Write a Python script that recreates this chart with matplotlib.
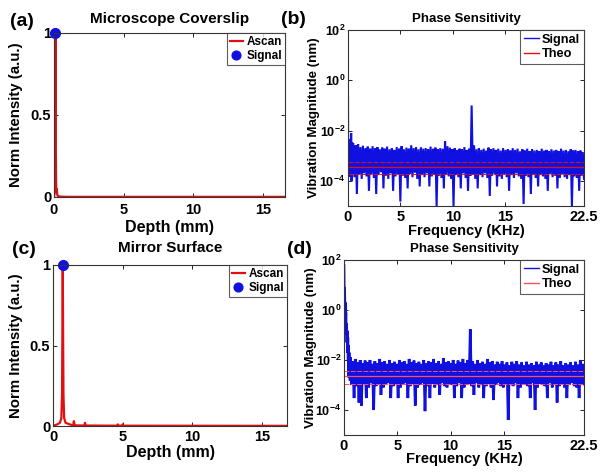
import numpy as np
import matplotlib
matplotlib.use("Agg")
import matplotlib.pyplot as plt
from matplotlib.ticker import FixedLocator, NullLocator

plt.rcParams['font.family'] = ['Liberation Sans', 'DejaVu Sans']
plt.rcParams['font.weight'] = 'bold'
plt.rcParams['mathtext.fontset'] = 'custom'
plt.rcParams['mathtext.rm'] = 'Liberation Sans:bold'
plt.rcParams['mathtext.bf'] = 'Liberation Sans:bold'
plt.rcParams['mathtext.it'] = 'Liberation Sans:bold'

# ---------------- Data ----------------
# (a) Microscope coverslip A-scan
a_depth = [0.0, 0.04, 0.07, 0.10, 0.13, 0.16, 0.20, 0.24, 0.30, 0.50, 1.0, 17.0]
a_int = [0.0, 0.02, 0.35, 1.0, 0.30, 0.03, 0.05, 0.01, 0.005, 0.002, 0.001, 0.001]
a_sig_depth = [0.10]
a_sig_int = [1.0]

# (c) Mirror surface A-scan
c_depth = [0.0, 0.3, 0.5, 0.6, 0.65, 0.70, 0.75, 0.80, 0.9, 1.2, 1.45, 1.5, 1.55,
           2.25, 2.3, 2.35, 4.6, 4.65, 4.7, 4.95, 5.0, 5.05, 17.0]
c_int = [0.0, 0.01, 0.02, 0.05, 0.2, 1.0, 0.2, 0.05, 0.02, 0.01, 0.004, 0.03, 0.004,
         0.003, 0.02, 0.003, 0.002, 0.01, 0.002, 0.002, 0.01, 0.002, 0.001]
c_sig_depth = [0.70]
c_sig_int = [1.0]

# (b) Phase sensitivity spectrum (coverslip)
b_head_freq = [0.0, 0.02, 0.06, 0.10, 0.14, 0.18, 0.22, 0.26, 0.30, 0.34, 0.38, 0.42, 0.46]
b_head_mag = [2.0e-1, 1.5e-4, 4.0e-3, 2.0e-4, 3.5e-3, 1.5e-4, 4.5e-3, 3.0e-4, 8.0e-3,
              1.0e-4, 3.5e-3, 2.0e-4, 3.0e-3]
b_band_start, b_band_end = 0.5, 22.5
b_upper = [3.2e-3, 2.6e-3, 2.9e-3, 2.2e-3, 2.5e-3, 2.0e-3, 2.3e-3, 1.9e-3, 2.4e-3, 2.0e-3,
           2.2e-3, 1.8e-3, 2.1e-3, 1.9e-3, 2.3e-3, 1.8e-3, 2.0e-3, 1.7e-3, 2.2e-3, 1.9e-3,
           2.4e-3, 1.8e-3, 2.1e-3, 1.9e-3, 2.6e-3, 2.0e-3, 2.2e-3, 1.8e-3, 2.1e-3, 1.9e-3,
           2.0e-3, 1.8e-3, 2.3e-3, 1.9e-3, 2.1e-3, 1.8e-3, 2.0e-3, 1.9e-3, 3.8e-3, 2.4e-3,
           2.1e-3, 1.8e-3, 2.0e-3, 1.7e-3, 1.9e-3, 1.8e-3, 2.2e-3, 1.7e-3, 1.9e-3, 1.0e-1,
           2.6e-3, 1.8e-3, 2.0e-3, 1.7e-3, 1.9e-3, 1.6e-3, 2.1e-3, 1.8e-3, 2.0e-3, 1.7e-3,
           1.9e-3, 1.6e-3, 2.0e-3, 1.7e-3, 1.8e-3, 1.6e-3, 2.0e-3, 1.7e-3, 1.9e-3, 1.5e-3,
           1.8e-3, 1.6e-3, 1.9e-3, 1.5e-3, 1.8e-3, 1.6e-3, 1.7e-3, 1.5e-3, 1.9e-3, 1.6e-3,
           1.7e-3, 1.5e-3, 1.8e-3, 1.6e-3, 1.7e-3, 1.5e-3, 1.9e-3, 1.6e-3, 1.7e-3, 1.5e-3,
           1.8e-3, 1.6e-3, 1.7e-3, 1.5e-3, 1.6e-3, 1.4e-3]
b_lower = [1.4e-4, 3.0e-5, 1.8e-4, 1.2e-4, 2.0e-4, 1.5e-4, 4.0e-5, 1.9e-4, 1.3e-4, 3.0e-5,
           1.7e-4, 2.2e-4, 5.0e-5, 1.6e-4, 1.2e-4, 2.0e-4, 4.0e-5, 1.5e-4, 1.8e-4, 1.5e-5,
           1.6e-4, 1.3e-4, 5.0e-5, 1.9e-4, 1.4e-4, 2.1e-4, 1.2e-4, 6.0e-5, 1.7e-4, 1.4e-4,
           2.0e-4, 6.0e-5, 1.5e-4, 1.8e-4, 1.0e-5, 1.6e-4, 1.3e-4, 5.0e-5, 1.9e-4, 1.5e-4,
           1.2e-4, 1.0e-5, 1.7e-4, 1.4e-4, 5.0e-5, 2.0e-4, 1.3e-4, 4.0e-5, 1.6e-4, 1.8e-4,
           1.2e-4, 5.0e-5, 1.7e-4, 1.4e-4, 2.0e-4, 1.3e-4, 2.5e-5, 1.6e-4, 1.9e-4, 6.0e-5,
           1.5e-4, 1.2e-4, 1.8e-4, 1.4e-4, 4.0e-5, 1.7e-4, 1.3e-4, 2.0e-4, 1.5e-4, 1.2e-4,
           1.2e-5, 1.6e-4, 1.4e-4, 3.0e-5, 1.8e-4, 1.3e-4, 6.0e-5, 1.7e-4, 1.5e-4, 1.2e-4,
           4.0e-5, 1.9e-4, 1.4e-4, 1.6e-4, 5.0e-5, 1.3e-4, 1.8e-4, 1.4e-4, 1.2e-4, 1.7e-4,
           1.0e-5, 1.5e-4, 1.3e-4, 4.0e-5, 1.6e-4, 1.2e-4]
b_theo = [3.5e-4]
b_theo_bounds = [5.6e-4, 1.9e-4]

# (d) Phase sensitivity spectrum (mirror)
d_head_freq = [0.0, 0.03, 0.06, 0.09, 0.12, 0.15, 0.18, 0.21, 0.24, 0.27, 0.30, 0.33,
               0.36, 0.39, 0.42, 0.45, 0.48, 0.51, 0.54, 0.57]
d_head_mag = [60.0, 3.0, 8.0, 0.8, 2.0, 0.3, 0.8, 0.1, 0.3, 0.05, 0.15, 0.02, 0.08,
              0.01, 0.04, 2.0e-3, 0.02, 2.0e-3, 0.012, 1.5e-3]
d_band_start, d_band_end = 0.6, 22.5
d_upper = [1.3e-2, 9.0e-3, 1.1e-2, 8.0e-3, 1.0e-2, 7.5e-3, 9.5e-3, 8.0e-3, 1.0e-2, 7.0e-3,
           9.0e-3, 7.5e-3, 1.1e-2, 8.0e-3, 9.0e-3, 7.0e-3, 1.0e-2, 7.5e-3, 8.5e-3, 7.0e-3,
           1.0e-2, 8.0e-3, 9.0e-3, 7.0e-3, 1.1e-2, 8.0e-3, 9.5e-3, 7.5e-3, 8.5e-3, 7.0e-3,
           1.0e-2, 7.5e-3, 9.0e-3, 8.0e-3, 1.1e-2, 7.5e-3, 9.0e-3, 7.0e-3, 1.2e-2, 8.0e-3,
           9.0e-3, 7.5e-3, 1.0e-2, 7.0e-3, 9.5e-3, 8.0e-3, 1.1e-2, 7.5e-3, 1.0e-2, 1.7e-1,
           9.0e-3, 7.0e-3, 1.0e-2, 7.5e-3, 8.5e-3, 7.0e-3, 1.1e-2, 8.0e-3, 9.0e-3, 6.5e-3,
           8.5e-3, 7.0e-3, 9.0e-3, 6.5e-3, 8.0e-3, 6.0e-3, 8.5e-3, 7.0e-3, 9.0e-3, 6.5e-3,
           8.0e-3, 6.0e-3, 8.5e-3, 6.5e-3, 7.5e-3, 6.0e-3, 8.5e-3, 6.5e-3, 8.0e-3, 6.0e-3,
           7.5e-3, 6.5e-3, 8.5e-3, 6.0e-3, 8.0e-3, 6.5e-3, 9.0e-3, 6.0e-3, 7.5e-3, 6.5e-3,
           8.0e-3, 6.0e-3, 8.5e-3, 6.5e-3, 1.0e-2, 7.0e-3]
d_lower = [1.0e-3, 3.0e-4, 9.0e-4, 2.0e-4, 1.5e-4, 1.1e-3, 3.0e-4, 8.0e-4, 1.2e-3, 1.0e-4,
           9.0e-4, 1.1e-3, 4.0e-4, 8.0e-4, 1.0e-3, 1.2e-3, 3.0e-4, 9.0e-4, 1.1e-3, 3.0e-4,
           8.0e-4, 1.0e-3, 1.2e-3, 3.0e-4, 9.0e-4, 1.1e-3, 1.5e-4, 8.0e-4, 1.0e-3, 1.2e-3,
           9.0e-5, 9.0e-4, 3.0e-4, 1.1e-3, 8.0e-4, 1.0e-3, 4.0e-4, 1.2e-3, 9.0e-4, 8.0e-4,
           1.1e-3, 1.0e-3, 3.0e-4, 9.0e-4, 1.2e-3, 3.0e-4, 8.0e-4, 1.0e-3, 1.1e-3, 9.0e-4,
           4.0e-4, 1.2e-3, 8.0e-4, 1.0e-3, 3.0e-4, 9.0e-4, 1.1e-3, 8.0e-4, 2.5e-4, 1.0e-3,
           1.2e-3, 9.0e-4, 8.0e-4, 1.1e-3, 4.0e-5, 1.0e-3, 9.0e-4, 1.2e-3, 3.0e-4, 8.0e-4,
           1.1e-3, 1.0e-3, 9.0e-4, 3.0e-4, 1.2e-3, 1.0e-4, 8.0e-4, 1.1e-3, 1.0e-3, 9.0e-4,
           3.0e-4, 1.2e-3, 8.0e-4, 1.0e-3, 2.0e-4, 9.0e-4, 1.1e-3, 8.0e-4, 3.0e-4, 1.0e-3,
           1.2e-3, 9.0e-4, 8.0e-4, 3.0e-4, 1.0e-3, 1.1e-3]
d_theo = [2.3e-3]
d_theo_bounds = [3.6e-3, 1.1e-3]

depth_ticks = [0, 5, 10, 15]
freq_ticks = [0, 5, 10, 15, 22.5]
freq_ticklabels = ['0', '5', '10', '15', '22.5']
int_ticks = [0, 0.5, 1]
int_ticklabels = ['0', '0.5', '1']
log_ticks = [1e-4, 1e-2, 1e0, 1e2]
log_ticklabels = [r'$10^{-4}$', r'$10^{-2}$', r'$10^{0}$', r'$10^{2}$']

RED = '#e01010'
BLUE = '#1010e0'


def build_spectrum(head_f, head_m, start, end, upper, lower):
    n = len(upper)
    f_pairs = np.linspace(start, end, 2 * n)
    m_pairs = np.ravel(np.column_stack([upper, lower]))
    return np.concatenate([head_f, f_pairs]), np.concatenate([head_m, m_pairs])


def style_axes(ax, xpad=2):
    ax.tick_params(direction='in', top=True, right=True, length=3, width=0.6,
                   labelsize=10.5, pad=2)
    ax.tick_params(axis='x', pad=xpad)
    for s in ax.spines.values():
        s.set_linewidth(0.8)
        s.set_color('#333333')
    for lab in ax.get_xticklabels() + ax.get_yticklabels():
        lab.set_fontweight('bold')


def style_legend(ax, fs, **kw):
    lg = ax.legend(loc='upper right', fontsize=fs, frameon=True, fancybox=False,
                   edgecolor='#333333', borderaxespad=0.0, **kw)
    lg.get_frame().set_linewidth(0.8)
    for t in lg.get_texts():
        t.set_fontweight('bold')
    return lg


fig = plt.figure(figsize=(6.04, 4.76), dpi=100)

# ---- (a) ----
ax_a = fig.add_axes([54 / 604, 1 - 197 / 476, 231 / 604, 164 / 476])
ax_a.plot(a_depth, a_int, color=RED, lw=1.6, label='Ascan')
ax_a.plot(a_sig_depth, a_sig_int, 'o', color=BLUE, ms=7, label='Signal', clip_on=False)
ax_a.set_xlim(0, 16.6)
ax_a.set_ylim(0, 1)
ax_a.set_xticks(depth_ticks)
ax_a.set_yticks(int_ticks)
ax_a.set_yticklabels(int_ticklabels)
style_axes(ax_a, xpad=4)
ax_a.set_xlabel('Depth (mm)', fontsize=11.5, fontweight='bold')
ax_a.xaxis.set_label_coords(0.5, -0.14)
ax_a.set_ylabel('Norm Intensity (a.u.)', fontsize=10.8, fontweight='bold')
ax_a.yaxis.set_label_coords(-0.134, 0.5)
ax_a.set_title('Microscope Coverslip', fontsize=11, fontweight='bold', pad=7)
style_legend(ax_a, 8.5, handlelength=1.1, handletextpad=0.3, borderpad=0.25,
             labelspacing=0.2, markerscale=0.9)

# ---- (c) ----
ax_c = fig.add_axes([53 / 604, 1 - 426 / 476, 234 / 604, 161 / 476])
ax_c.plot(c_depth, c_int, color=RED, lw=1.6, label='Ascan')
ax_c.plot(c_sig_depth, c_sig_int, 'o', color=BLUE, ms=7, label='Signal', clip_on=False)
ax_c.set_xlim(0, 16.8)
ax_c.set_ylim(0, 1)
ax_c.set_xticks(depth_ticks)
ax_c.set_yticks(int_ticks)
ax_c.set_yticklabels(int_ticklabels)
style_axes(ax_c, xpad=3)
ax_c.set_xlabel('Depth (mm)', fontsize=11.5, fontweight='bold')
ax_c.xaxis.set_label_coords(0.5, -0.115)
ax_c.set_ylabel('Norm Intensity (a.u.)', fontsize=10.8, fontweight='bold')
ax_c.yaxis.set_label_coords(-0.128, 0.5)
ax_c.set_title('Mirror Surface', fontsize=11, fontweight='bold', pad=9)
style_legend(ax_c, 8.5, handlelength=1.1, handletextpad=0.3, borderpad=0.25,
             labelspacing=0.2, markerscale=0.9)


def spectrum_panel(rect, head_f, head_m, start, end, upper, lower, theo, bounds,
                   lw_sig, theo_color, ylab_x, xlab_y):
    ax = fig.add_axes(rect)
    f, m = build_spectrum(head_f, head_m, start, end, upper, lower)
    ax.plot(f, m, color=BLUE, lw=lw_sig, label='Signal', solid_joinstyle='miter')
    ax.axhline(theo[0], color=theo_color, lw=0.9, label='Theo')
    for bnd in bounds:
        ax.axhline(bnd, color=theo_color, lw=0.7, ls=(0, (5, 1.5)))
    ax.set_yscale('log')
    ax.set_xlim(0, 22.5)
    ax.set_ylim(1e-5, 1e2)
    ax.xaxis.set_major_locator(FixedLocator(freq_ticks))
    ax.set_xticklabels(freq_ticklabels)
    ax.yaxis.set_major_locator(FixedLocator(log_ticks))
    ax.set_yticklabels(log_ticklabels)
    ax.yaxis.set_minor_locator(NullLocator())
    style_axes(ax, xpad=3)
    ax.tick_params(axis='y', labelsize=9, pad=2)
    ax.set_xlabel('Frequency (KHz)', fontsize=10.5, fontweight='bold')
    ax.xaxis.set_label_coords(0.5, xlab_y)
    ax.set_ylabel('Vibration Magnitude (nm)', fontsize=9.6, fontweight='bold')
    ax.yaxis.set_label_coords(ylab_x, 0.5)
    ax.set_title('Phase Sensitivity', fontsize=9.5, fontweight='bold', pad=6)
    lg = style_legend(ax, 9.2, handlelength=1.2, handletextpad=0.2, borderpad=0.3,
                      labelspacing=0.2)
    for h in lg.get_lines():
        h.set_linewidth(1.0)
    return ax


spectrum_panel([348 / 604, 1 - 206 / 476, 236 / 604, 176 / 476],
               b_head_freq, b_head_mag, b_band_start, b_band_end, b_upper, b_lower,
               b_theo, b_theo_bounds, 1.5, '#e01010', -0.119, -0.1)
spectrum_panel([344 / 604, 1 - 435 / 476, 240 / 604, 175 / 476],
               d_head_freq, d_head_mag, d_band_start, d_band_end, d_upper, d_lower,
               d_theo, d_theo_bounds, 1.9, '#ff5060', -0.1125, -0.1)

# panel letters
for lbl, x, y in [('(a)', 10, 21), ('(b)', 281, 19), ('(c)', 12, 250), ('(d)', 287, 249)]:
    fig.text(x / 604, 1 - y / 476, lbl, fontsize=14, fontweight='bold',
             ha='left', va='center')

fig.savefig('out.png', dpi=100)
